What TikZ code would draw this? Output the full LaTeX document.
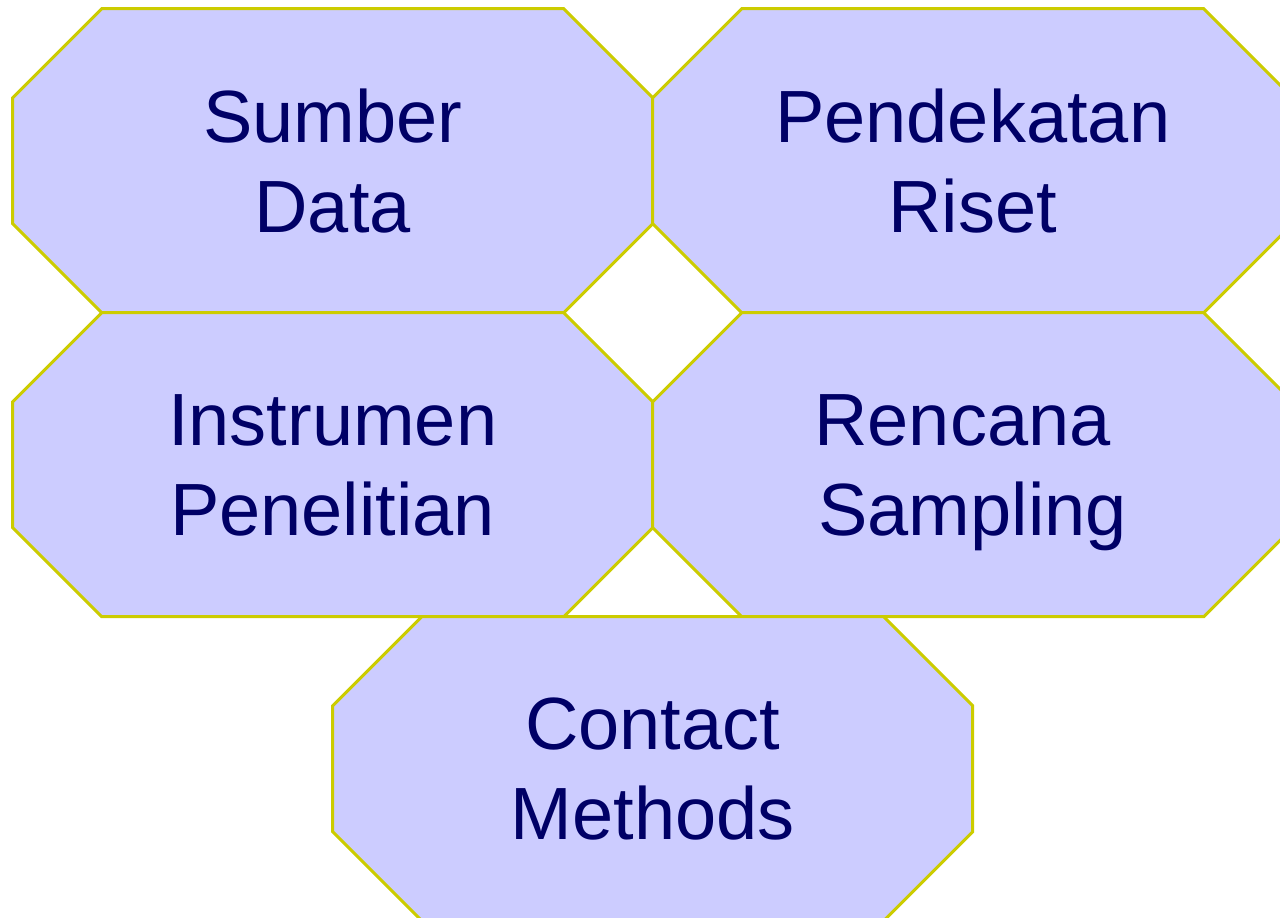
\documentclass[tikz,border=0pt]{standalone}
\usepackage{fontspec}
\setmainfont{Liberation Sans}
\definecolor{octfill}{HTML}{CCCCFF}
\definecolor{octline}{HTML}{CCCC00}
\definecolor{octtext}{HTML}{000066}
\tikzset{
  octshape/.style={fill=octfill, draw=octline, line width=3pt},
  octa/.pic={
    \path[octshape] (-231,-152) -- ++(462,0) -- ++(89,89) -- ++(0,126)
      -- ++(-89,89) -- ++(-462,0) -- ++(-89,-89) -- ++(0,-126) -- cycle;
  },
  label/.style={align=center, text=octtext, inner sep=0pt, text depth=0pt,
    font=\fontsize{74}{90}\selectfont},
}
\begin{document}
\begin{tikzpicture}[x=1pt, y=-1pt]
  \clip (0,0) rectangle (1280,918);
  \fill[white] (0,0) rectangle (1280,918);
  % octagon centres
  \coordinate (c1) at (332.7,160.7);
  \coordinate (c2) at (972.7,160.7);
  \coordinate (c3) at (332.7,464.7);
  \coordinate (c4) at (972.7,464.7);
  \coordinate (c5) at (652.7,768.7);
  % octagons
  \pic at (c1) {octa};
  \pic at (c2) {octa};
  \pic at (c3) {octa};
  \pic at (c4) {octa};
  \pic at (c5) {octa};
  % labels
  \node[label] (sumber)     at (c1) {Sumber\\Data};
  \node[label] (pendekatan) at (c2) {Pendekatan\\Riset};
  \node[label] (instrumen)  at (c3) {Instrumen\\Penelitian};
  \node[label] (rencana)    at (c4) {Rencana\hspace*{.278em}\\Sampling};
  \node[label] (contact)    at (c5) {Contact\\Methods};
\end{tikzpicture}
\end{document}
